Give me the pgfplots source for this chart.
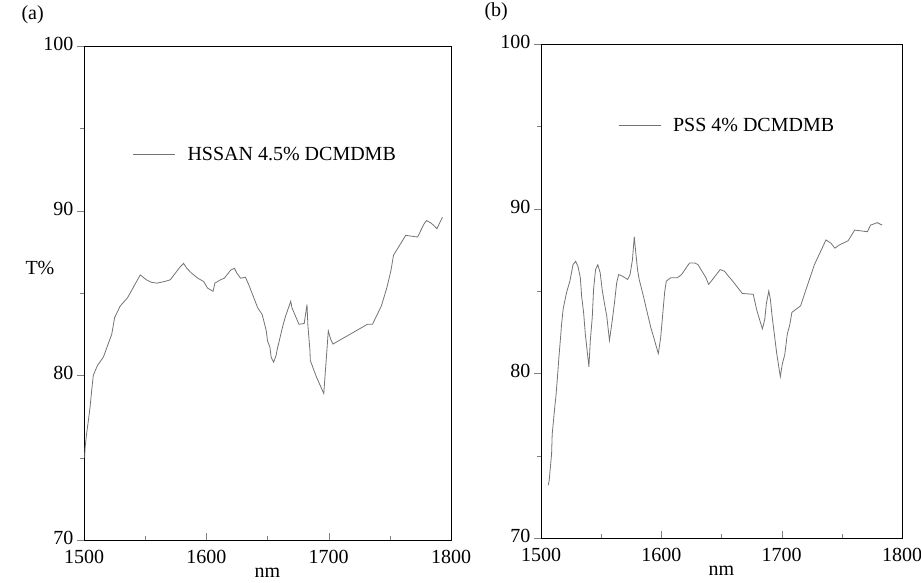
\documentclass[border=0pt]{standalone}
\usepackage{fontspec}
\setmainfont{Liberation Serif}
\usepackage{pgfplots}
\pgfplotsset{compat=1.18}
\pgfplotsset{
  myax/.style={
    scale only axis,
    anchor=south west,
    height=494pt,
    xmin=1500, xmax=1800, ymin=70, ymax=100,
    xtick={1500,1600,1700,1800},
    ytick={70,80,90,100},
    minor x tick num=1,
    minor y tick num=1,
    xtick pos=bottom, ytick pos=left,
    xtick align=inside, ytick align=outside,
    major tick length=7pt, minor tick length=4pt,
    /pgf/number format/assume math mode=true,
    /pgf/number format/1000 sep={},
    font=\fontsize{20}{24}\selectfont,
    tick label style={font=\fontsize{20}{24}\selectfont},
    xticklabel style={yshift=-7pt},
    yticklabel style={yshift=2pt},
    xlabel={nm},
    xlabel style={yshift=3pt},
    axis line style={line width=1pt},
    legend style={draw=none, fill=none, font=\fontsize{20}{24}\selectfont, anchor=west},
    legend cell align=left,
    legend image code/.code={\draw[#1] (0pt,0pt) -- (42pt,0pt); \path (52pt,0pt);},
  },
  curve/.style={color=black!55, line width=0.8pt},
}
\begin{document}
\begin{tikzpicture}[x=1pt,y=1pt]
\path[use as bounding box] (0,0) rectangle (921,582);
\node[font=\fontsize{20}{24}\selectfont, anchor=west] at (18,567) {(a)};
\node[font=\fontsize{20}{24}\selectfont, anchor=west] at (481,570) {(b)};
\begin{axis}[myax, at={(84pt,42pt)}, width=367pt,
  ylabel={T\%}, ylabel style={at={(axis description cs:-0.12,0.55)}, rotate=-90, anchor=center},
  legend style={at={(0.124,0.78)}}]
\addplot[curve] coordinates {
(1500.5,75.0) (1501,75.7) (1502.2,76.5) (1503.5,77.2) (1505,78.1) (1506.3,79.1)
(1507.6,80.0) (1511,80.6) (1515.8,81.1) (1522.7,82.5) (1525,83.5) (1527,83.8)
(1529.5,84.2) (1535.5,84.7) (1546,86.1) (1551,85.8) (1555,85.65) (1559.6,85.6)
(1566,85.7) (1570.5,85.8) (1574.6,86.2) (1578.7,86.6) (1581.4,86.8) (1584,86.5)
(1588,86.2) (1593,85.9) (1597.8,85.7) (1601,85.3) (1605.5,85.1) (1607,85.6)
(1611.5,85.8) (1614.7,85.9) (1620,86.4) (1623,86.5) (1625,86.2) (1628,85.9)
(1632,85.95) (1634.7,85.5) (1642,84.1) (1645.6,83.7) (1647,83.3) (1649,82.7)
(1650,82.1) (1652,81.7) (1653,81.1) (1655,80.8) (1657,81.2) (1658,81.6)
(1659,81.9) (1662.5,83.0) (1664.8,83.6) (1669,84.5) (1670,84.1) (1675.7,83.1)
(1680,83.15) (1682.3,84.3) (1683,83.05) (1684.7,81.5) (1685,80.9) (1690,79.9)
(1696,78.9) (1699.7,82.7) (1701.6,82.2) (1703.5,81.9) (1731.7,83.1) (1735.8,83.1)
(1743,84.2) (1747.5,85.3) (1751,86.4) (1753,87.3) (1763,88.5) (1772.7,88.4)
(1778,89.2) (1780,89.4) (1783.6,89.25) (1786,89.1) (1788.5,88.9) (1791,89.3)
(1793,89.6)
};
\addlegendentry{HSSAN 4.5\% DCMDMB}
\end{axis}
\begin{axis}[myax, at={(541pt,44pt)}, width=361pt,
  legend style={at={(0.205,0.835)}}]
\addplot[curve] coordinates {
(1506,73.2) (1506.8,73.5) (1508.8,75.1) (1509.3,76.3) (1511.5,78.0) (1512.4,78.6)
(1513.5,79.6) (1514.8,80.9) (1515.7,81.7) (1516.5,82.4) (1517,82.9) (1518.4,83.9)
(1521.2,84.9) (1524,85.6) (1526.6,86.6) (1528.8,86.8) (1530.7,86.5) (1532.7,85.8)
(1533.8,84.65) (1535.4,83.7) (1536.8,82.4) (1539.8,80.4) (1541,82.0) (1542.6,83.4)
(1543.7,85.1) (1545.3,86.3) (1547.2,86.6) (1549.2,86.1) (1550.8,85.1) (1552.7,84.25)
(1554.6,83.5) (1556.9,82.0) (1559,83.1) (1561,84.25) (1562.9,85.5) (1564.5,86.0)
(1567.8,85.9) (1572,85.7) (1574,86.0) (1576,86.9) (1577.5,88.3) (1578,87.9)
(1580.2,86.3) (1581.6,85.7) (1584.9,84.75) (1587.6,83.9) (1591.2,82.8) (1594,82.1)
(1595.9,81.6) (1597.5,81.2) (1599.5,82.2) (1601.4,83.8) (1602.8,84.95) (1604.1,85.6)
(1607.7,85.8) (1613.2,85.8) (1616.8,86.0) (1623.4,86.7) (1627.8,86.7) (1630.5,86.6)
(1633.8,86.2) (1637.1,85.8) (1639.3,85.4) (1641.5,85.6) (1648.9,86.3) (1652.5,86.2)
(1655.8,85.9) (1659.3,85.6) (1667.3,84.85) (1676.4,84.8) (1679.1,83.9) (1681.9,83.2)
(1684,82.7) (1686,83.3) (1687.3,84.25) (1689.3,85.0) (1690.7,84.45) (1692,83.5)
(1693.7,82.5) (1695.9,81.2) (1697.8,80.3) (1698.9,79.8) (1700.6,80.6) (1702.5,81.1)
(1704.7,82.4) (1706.6,82.9) (1708.5,83.7) (1715.7,84.1) (1727.2,86.6) (1736.8,88.1)
(1741,87.9) (1744.2,87.6) (1748,87.8) (1755.2,88.05) (1760.7,88.7) (1771.2,88.6)
(1773.9,89.0) (1779.4,89.15) (1783.5,89.0)
};
\addlegendentry{PSS 4\% DCMDMB}
\end{axis}
\end{tikzpicture}
\end{document}
